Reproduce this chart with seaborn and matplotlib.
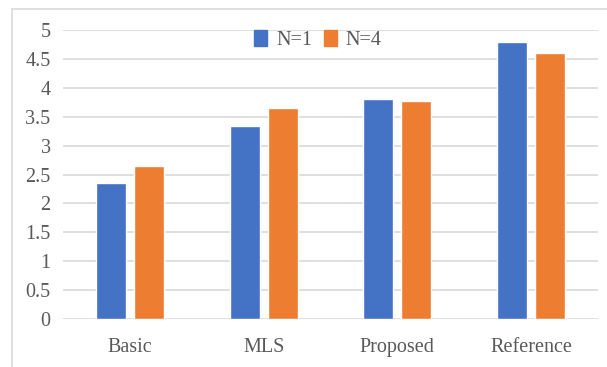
import matplotlib
matplotlib.use("Agg")
import matplotlib.pyplot as plt
from matplotlib.patches import Rectangle
import seaborn as sns
import pandas as pd

methods = ["Basic", "MLS", "Proposed", "Reference"]
n1_scores = [2.35, 3.34, 3.81, 4.80]
n4_scores = [2.64, 3.65, 3.78, 4.61]
series_names = ["N=1", "N=4"]
y_ticks = [0, 0.5, 1, 1.5, 2, 2.5, 3, 3.5, 4, 4.5, 5]
y_tick_labels = ["0", "0.5", "1", "1.5", "2", "2.5", "3", "3.5", "4", "4.5", "5"]

df = pd.DataFrame({
    "method": methods * 2,
    "score": n1_scores + n4_scores,
    "series": [series_names[0]] * len(methods) + [series_names[1]] * len(methods),
})

sns.set_style("white")
plt.rcParams["font.family"] = ["Liberation Serif", "DejaVu Serif"]
text_color = "#595959"
grid_color = "#d9d9d9"

fig = plt.figure(figsize=(6.07, 3.67), dpi=100)
ax = fig.add_axes([63 / 607, 1 - 319 / 367, (598 - 63) / 607, (319 - 30) / 367])

sns.barplot(
    data=df, x="method", y="score", hue="series", order=methods,
    hue_order=series_names, palette=["#4472c4", "#ed7d31"],
    width=0.57, gap=0.21, saturation=1, ax=ax, legend=False,
)

ax.set_ylim(0, 5)
ax.set_xlim(-0.5, len(methods) - 0.5)
ax.set_yticks(y_ticks)
ax.set_yticklabels(y_tick_labels)
ax.yaxis.grid(True, color=grid_color, linewidth=1.2)
ax.set_axisbelow(True)
for s in ax.spines.values():
    s.set_visible(False)
ax.tick_params(axis="both", length=0, labelsize=14.5, colors=text_color)
ax.tick_params(axis="y", pad=9)
ax.tick_params(axis="x", pad=14)
ax.set_xlabel("")
ax.set_ylabel("")

# Legend with square markers, centred above the bars
handles = [Rectangle((0, 0), 1, 1, color=c) for c in ["#4472c4", "#ed7d31"]]
ax.legend(
    handles, series_names, ncol=2, frameon=False, loc="center",
    bbox_to_anchor=(318 / 607, 1 - 40 / 367), bbox_transform=fig.transFigure,
    handlelength=0.65, handleheight=0.8, handletextpad=0.45, columnspacing=0.55,
    fontsize=14.5, labelcolor=text_color, borderpad=0,
)

# Chart-area border (extends past the figure edges on the right and bottom)
border = Rectangle((12 / 607, -0.2), 1.2, (1 - 9 / 367) + 0.2,
                   transform=fig.transFigure, fill=False,
                   edgecolor=grid_color, linewidth=1.2, clip_on=False)
fig.add_artist(border)

fig.savefig("out.png", dpi=100)
